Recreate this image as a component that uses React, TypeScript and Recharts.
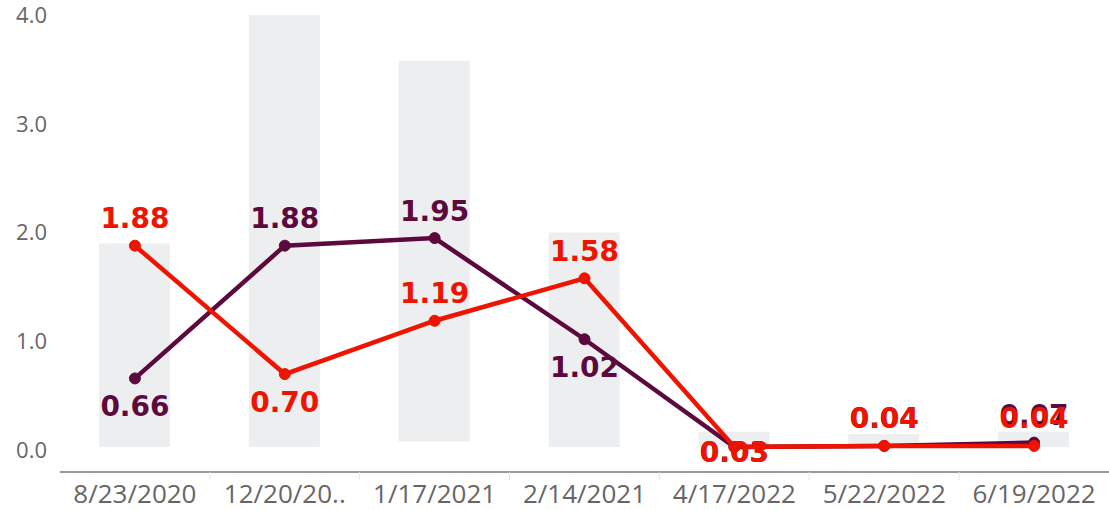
import React from 'react';
import { ComposedChart, Bar, Line, XAxis, YAxis, LabelList } from 'recharts';

const dates = ['8/23/2020', '12/20/20..', '1/17/2021', '2/14/2021', '4/17/2022', '5/22/2022', '6/19/2022'];
const rangeLow = [0.03, 0.03, 0.08, 0.03, 0.03, 0.03, 0.03];
const rangeHigh = [1.9, 4.0, 3.58, 2.0, 0.17, 0.15, 0.17];
const purpleValues = [0.66, 1.88, 1.95, 1.02, 0.03, 0.04, 0.07];
const redValues = [1.88, 0.7, 1.19, 1.58, 0.03, 0.04, 0.04];
const yTicks = [0, 1, 2, 3, 4];

// label placement per point: 1 = above, -1 = below
const purpleLabelSide = [-1, 1, 1, -1, -1, 1, 1];
const redLabelSide = [1, -1, 1, 1, -1, 1, 1];

const PURPLE = '#5c0a3e';
const RED = '#ee1400';
const FONT = '"Open Sans", "Noto Sans", sans-serif';
const LABEL_FONT = '"DejaVu Sans", "Open Sans", sans-serif';

const data = dates.map((d, i) => ({
  date: d,
  range: [rangeLow[i], rangeHigh[i]],
  purple: purpleValues[i],
  red: redValues[i],
}));

const makeLabel = (color: string, sides: number[]) => (props: any) => {
  const { x, y, value, index } = props;
  let cy = sides[index] > 0 ? y - 27 : y + 28;
  if (cy > 452) cy = 452;
  return (
    <text
      x={x}
      y={cy}
      textAnchor="middle"
      dominantBaseline="central"
      fill={color}
      fontFamily={LABEL_FONT}
      fontWeight={700}
      fontSize={28}
    >
      {Number(value).toFixed(2)}
    </text>
  );
};

const XTick = (props: any) => {
  const { x, y, payload, index } = props;
  return (
    <g>
      {index > 0 && <line x1={x - 75} x2={x - 75} y1={y - 8} y2={y} stroke="#e3e3e3" strokeWidth={1} />}
      <text x={x} y={y + 23} textAnchor="middle" fill="#666" fontFamily={FONT} fontSize={26}>
        {payload.value}
      </text>
    </g>
  );
};

export default function App() {
  return (
    <div style={{ width: 1109, height: 510, background: '#fff' }}>
      <style>{`body{margin:0}`}</style>
      <ComposedChart
        width={1109}
        height={510}
        data={data}
        margin={{ top: 15, right: 0, bottom: 0, left: 0 }}
        barCategoryGap={40}
      >
        <XAxis
          dataKey="date"
          height={38}
          axisLine={{ stroke: '#999', strokeWidth: 2 }}
          tickLine={false}
          tick={<XTick />}
          interval={0}
        />
        <YAxis
          width={60}
          domain={[-0.2, 4]}
          ticks={yTicks}
          axisLine={false}
          tickLine={false}
          tickFormatter={(v: number) => v.toFixed(1)}
          tick={{ fill: '#666', fontFamily: FONT, fontSize: 22, textAnchor: 'end' }}
          tickMargin={7}
          interval={0}
        />
        <Bar dataKey="range" fill="#edeef0" barSize={71} isAnimationActive={false} />
        <Line
          dataKey="purple"
          stroke={PURPLE}
          strokeWidth={4.5}
          dot={{ r: 5.5, fill: PURPLE, stroke: PURPLE, strokeWidth: 1 }}
          activeDot={false}
          isAnimationActive={false}
        >
          <LabelList dataKey="purple" content={makeLabel(PURPLE, purpleLabelSide)} />
        </Line>
        <Line
          dataKey="red"
          stroke={RED}
          strokeWidth={4.5}
          dot={{ r: 5.5, fill: RED, stroke: RED, strokeWidth: 1 }}
          activeDot={false}
          isAnimationActive={false}
        >
          <LabelList dataKey="red" content={makeLabel(RED, redLabelSide)} />
        </Line>
      </ComposedChart>
    </div>
  );
}
